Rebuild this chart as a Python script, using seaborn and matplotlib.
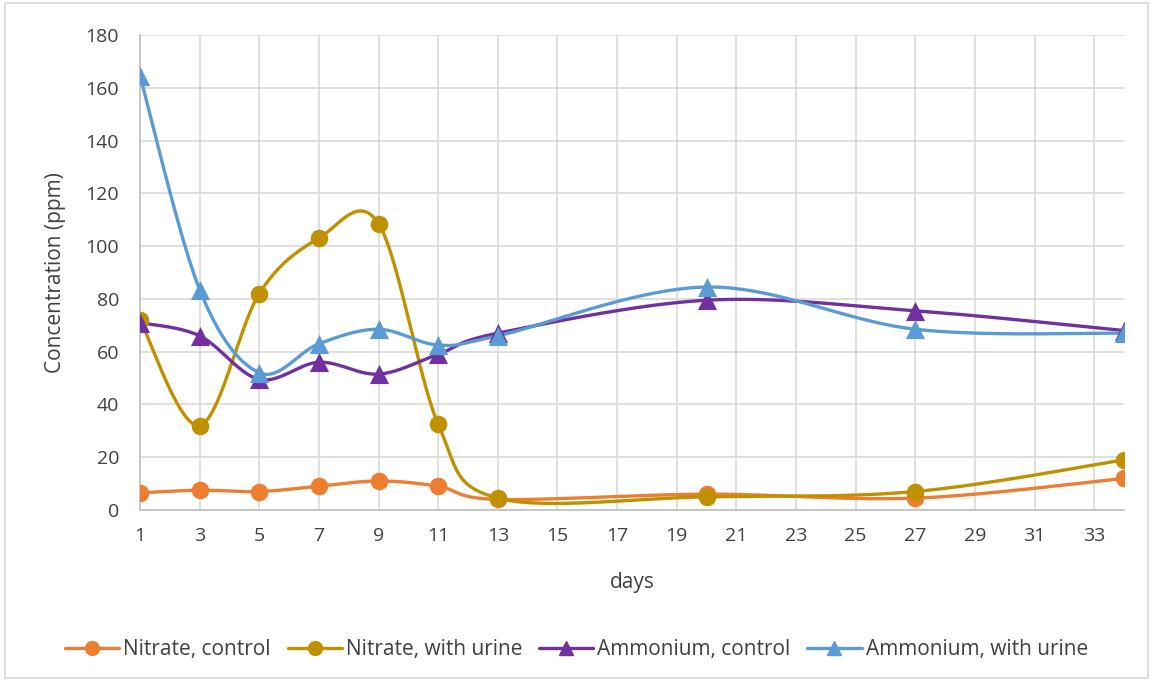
import numpy as np
import pandas as pd
import matplotlib
matplotlib.use("Agg")
import matplotlib.pyplot as plt
import seaborn as sns

days = [1, 3, 5, 7, 9, 11, 13, 20, 27, 34]
nitrate_control = [6.5, 7.5, 7, 9, 11, 9, 4, 6, 4.5, 12]
nitrate_urine = [72, 32, 82, 103, 108.5, 32.5, 4.5, 5, 7, 19]
ammonium_control = [71, 66, 49.5, 56, 51.5, 59, 67, 79.5, 75.5, 68]
ammonium_urine = [164.5, 83.5, 52, 63, 68.5, 62.5, 66, 84.5, 68.5, 67]
series_names = ["Nitrate, control", "Nitrate, with urine", "Ammonium, control", "Ammonium, with urine"]
xticks = list(range(1, 34, 2))
yticks = list(range(0, 181, 20))

colors = ["#ED7D31", "#BF9000", "#7030A0", "#5B9BD5"]
markers = ["o", "o", "^", "^"]

sns.set_theme(style="white")
plt.rcParams['font.family'] = ['Open Sans', 'DejaVu Sans']


def smooth(x, y, n=40):
    x = np.asarray(x, float); y = np.asarray(y, float)
    px = np.concatenate([[x[0]], x, [x[-1]]])
    py = np.concatenate([[y[0]], y, [y[-1]]])
    xs, ys = [], []
    t = np.linspace(0, 1, n)
    for i in range(1, len(px) - 2):
        p0 = np.array([px[i], py[i]]); p3 = np.array([px[i + 1], py[i + 1]])
        p1 = p0 + (np.array([px[i + 1], py[i + 1]]) - np.array([px[i - 1], py[i - 1]])) / 6
        p2 = p3 - (np.array([px[i + 2], py[i + 2]]) - np.array([px[i], py[i]])) / 6
        b = ((1 - t) ** 3)[:, None] * p0 + (3 * (1 - t) ** 2 * t)[:, None] * p1 + \
            (3 * (1 - t) * t ** 2)[:, None] * p2 + (t ** 3)[:, None] * p3
        xs.extend(b[:, 0]); ys.extend(b[:, 1])
    return np.array(xs), np.array(ys)


fig = plt.figure(figsize=(11.53, 6.81), dpi=100)
ax = fig.add_axes([140 / 1153, 1 - 510 / 681, (1124 - 140) / 1153, (510 - 35) / 681])

all_series = [nitrate_control, nitrate_urine, ammonium_control, ammonium_urine]
handles = []
for name, vals, c, m in zip(series_names, all_series, colors, markers):
    sx, sy = smooth(days, vals)
    sm = pd.DataFrame({"x": sx, "y": sy})
    sns.lineplot(data=sm, x="x", y="y", ax=ax, color=c, lw=2.4, sort=False, estimator=None,
                 legend=False, zorder=3)
    pts = pd.DataFrame({"x": days, "y": vals})
    sns.scatterplot(data=pts, x="x", y="y", ax=ax, color=c, marker=m, s=160 if m == "o" else 190,
                    edgecolor=c, linewidth=0, legend=False, zorder=4)
    h, = ax.plot([], [], color=c, lw=2.4, marker=m, markersize=10, label=name)
    handles.append(h)

if ax.get_legend() is not None:
    ax.get_legend().remove()

ax.set_xlim(1, 34)
ax.set_ylim(0, 180)
ax.set_xticks(xticks)
ax.set_yticks(yticks)
ax.grid(True, color="#D9D9D9", lw=1.2)
ax.set_axisbelow(True)
for s in ["top", "right"]:
    ax.spines[s].set_visible(False)
for s in ["left", "bottom"]:
    ax.spines[s].set_color("#BFBFBF")
    ax.spines[s].set_linewidth(1.2)
ax.tick_params(axis="both", length=0, labelsize=14, colors="#404040")
ax.tick_params(axis="y", pad=15)
ax.tick_params(axis="x", pad=12)
ax.set_xlabel("days", fontsize=15, color="#404040", labelpad=20)
ax.set_ylabel("Concentration (ppm)", fontsize=15, color="#404040", labelpad=14)

fig.legend(handles=handles, loc="center", bbox_to_anchor=(0.5, 1 - 650 / 681), ncol=4, frameon=False,
           fontsize=15, handlelength=2.6, handletextpad=0.2, columnspacing=0.8, labelcolor="#404040")

fig.patches.append(plt.Rectangle((0.004, 0.004), 0.992, 0.992, transform=fig.transFigure,
                                 fill=False, edgecolor="#D9D9D9", lw=1.2))
fig.savefig("out.png", dpi=100)
